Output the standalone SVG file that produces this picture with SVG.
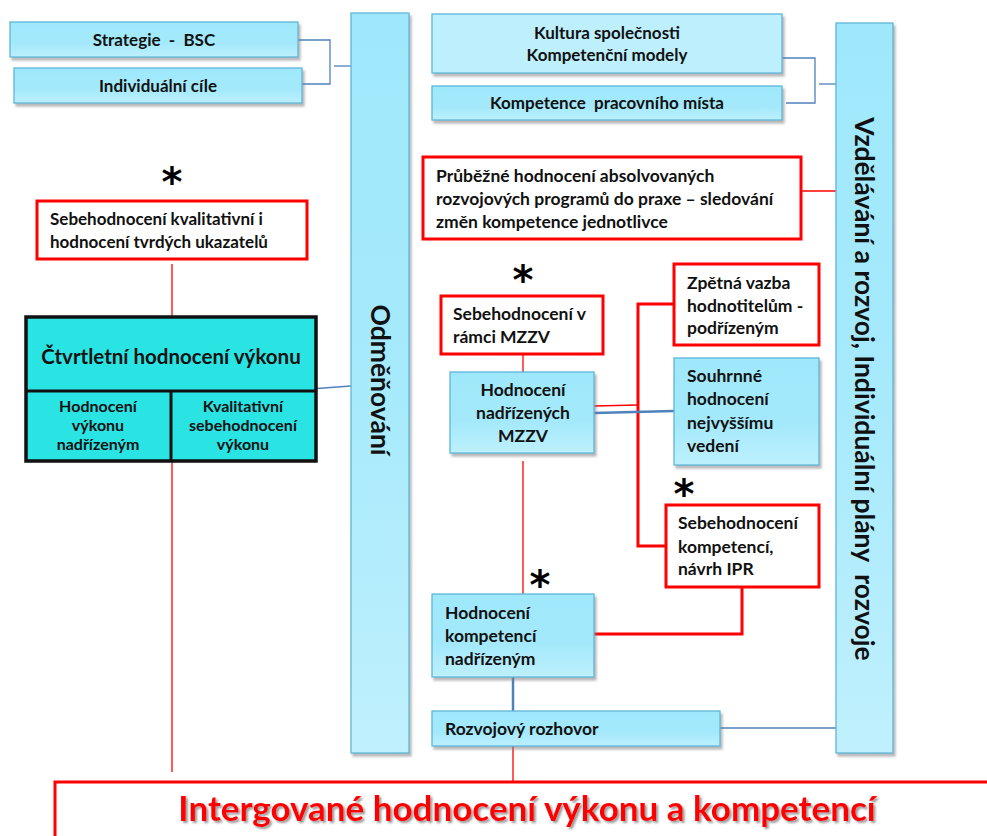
<svg xmlns="http://www.w3.org/2000/svg" width="987" height="836" viewBox="0 0 987 836">
  <defs>
    <linearGradient id="gBlue" x1="0" y1="0" x2="0" y2="1">
      <stop offset="0" stop-color="#9fe8fb"/>
      <stop offset="0.6" stop-color="#a3e9fb"/>
      <stop offset="1" stop-color="#bdf0fd"/>
    </linearGradient>
    <linearGradient id="gCol" x1="0" y1="0" x2="0" y2="1">
      <stop offset="0" stop-color="#9fe8fb"/>
      <stop offset="0.5" stop-color="#a6eafc"/>
      <stop offset="1" stop-color="#c0f0fd"/>
    </linearGradient>
    <filter id="shadow" x="-10%" y="-10%" width="130%" height="140%">
      <feDropShadow dx="2" dy="3" stdDeviation="1" flood-color="#7f7f7f" flood-opacity="0.55"/>
    </filter>
    <filter id="tshadow" x="-5%" y="-20%" width="110%" height="150%">
      <feDropShadow dx="2" dy="2" stdDeviation="0.8" flood-color="#808080" flood-opacity="0.8"/>
    </filter>
  </defs>
  <style>
    .box { fill: url(#gBlue); stroke: #5eb6d8; stroke-width: 1.3; filter: url(#shadow); }
    .col { fill: url(#gCol); stroke: #5eb6d8; stroke-width: 1.3; filter: url(#shadow); }
    .rbox { fill: #ffffff; stroke: #ff0000; stroke-width: 3; }
    .qbox { fill: #2ae4e4; stroke: #111111; stroke-width: 3.5; }
    .t { font-family: Lato, "Liberation Sans", sans-serif; font-weight: bold; fill: #111111; white-space: pre; }
    .s15 { font-size: 17px; }
    .s16 { font-size: 17.5px; }
    .sq { font-size: 16px; }
    .mid { text-anchor: middle; }
    .rot { font-size: 26.5px; text-anchor: middle; dominant-baseline: central; }
    .star { font-family: "DejaVu Sans", sans-serif; font-weight: bold; font-size: 40px; fill: #000; text-anchor: middle; }
    .bl { fill: none; stroke: #4f81bd; stroke-width: 1.3; }
    .bl2 { fill: none; stroke: #4f81bd; stroke-width: 2.5; }
    .rl { fill: none; stroke: #ff0000; stroke-width: 1.3; }
    .rl2 { fill: none; stroke: #ff0000; stroke-width: 3; }
    .big { font-family: Lato, "Liberation Sans", sans-serif; font-weight: bold; font-size: 35px; fill: #ff0000; text-anchor: middle; filter: url(#tshadow); }
  </style>

  <!-- connectors -->
  <g id="connectors">
    <polyline class="bl" points="298,40 330,40 330,84 302,84"/>
    <line class="bl" x1="334" y1="66" x2="351" y2="66"/>
    <polyline class="bl" points="782,58 815,58 815,103 786,103"/>
    <line class="bl" x1="819" y1="84" x2="836" y2="84"/>
    <line class="rl" x1="172" y1="264" x2="172" y2="317"/>
    <line class="rl" x1="172" y1="461" x2="172" y2="772"/>
    <line class="bl" x1="310" y1="389" x2="351" y2="386"/>
    <line class="rl" x1="801" y1="191" x2="836" y2="191"/>
    <line class="rl" x1="523" y1="354" x2="523" y2="372"/>
    <polyline class="rl2" points="674,304 638,304 638,546 666,546"/>
    <line class="rl" x1="594" y1="406" x2="638" y2="405"/>
    <line class="bl2" x1="594" y1="413" x2="674" y2="411"/>
    <line class="rl" x1="523" y1="461" x2="523" y2="594"/>
    <polyline class="rl2" points="742,587 742,634 594,634"/>
    <line class="bl2" x1="513" y1="677" x2="513" y2="711"/>
    <line class="bl" x1="720" y1="728" x2="836" y2="728"/>
    <line class="rl" x1="513" y1="746" x2="513" y2="782"/>
  </g>

  <!-- side columns -->
  <g id="odmenovani">
    <rect class="col" x="351" y="13" width="58" height="740"/>
    <text class="t rot" transform="translate(381,380) rotate(90)">Odměňování</text>
  </g>
  <g id="vzdelavani">
    <rect class="col" x="836" y="23" width="57" height="730"/>
    <text class="t rot" transform="translate(865,389) rotate(90)">Vzdělávání a rozvoj, Individuální plány  rozvoje</text>
  </g>

  <!-- top left inputs -->
  <g id="strategie">
    <rect class="box" x="10" y="22" width="288" height="35"/>
    <text class="t s15 mid" x="154" y="46">Strategie  -  BSC</text>
  </g>
  <g id="individualni-cile">
    <rect class="box" x="14" y="68" width="288" height="35"/>
    <text class="t s15 mid" x="158" y="92">Individuální cíle</text>
  </g>

  <!-- top right inputs -->
  <g id="kultura">
    <rect class="box" x="432" y="14" width="350" height="59" style="fill:#bdeffd"/>
    <text class="t s15 mid" x="607" y="39">Kultura společnosti</text>
    <text class="t s15 mid" x="607" y="61">Kompetenční modely</text>
  </g>
  <g id="kompetence-mista">
    <rect class="box" x="432" y="86" width="350" height="34"/>
    <text class="t s15 mid" x="607" y="109">Kompetence  pracovního místa</text>
  </g>

  <!-- left branch -->
  <g id="sebehodnoceni-kval">
    <text class="star" x="172" y="196">*</text>
    <rect class="rbox" x="37" y="201" width="270" height="58"/>
    <text class="t s15" x="50" y="225">Sebehodnocení kvalitativní i</text>
    <text class="t s15" x="50" y="248">hodnocení tvrdých ukazatelů</text>
  </g>
  <g id="ctvrtletni">
    <rect class="qbox" x="26" y="317" width="290" height="144"/>
    <line x1="26" y1="391" x2="316" y2="391" stroke="#111" stroke-width="3"/>
    <line x1="171" y1="391" x2="171" y2="461" stroke="#111" stroke-width="3"/>
    <text class="t mid" x="171" y="364" style="font-size:20.5px">Čtvrtletní hodnocení výkonu</text>
    <text class="t sq mid" x="98" y="412">Hodnocení</text>
    <text class="t sq mid" x="98" y="431">výkonu</text>
    <text class="t sq mid" x="98" y="450">nadřízeným</text>
    <text class="t sq mid" x="243" y="412">Kvalitativní</text>
    <text class="t sq mid" x="243" y="431">sebehodnocení</text>
    <text class="t sq mid" x="243" y="450">výkonu</text>
  </g>

  <!-- centre branch -->
  <g id="prubezne">
    <rect class="rbox" x="423" y="157" width="378" height="82"/>
    <text class="t s16" x="436" y="182">Průběžné hodnocení absolvovaných</text>
    <text class="t s16" x="436" y="205">rozvojových programů do praxe – sledování</text>
    <text class="t s16" x="436" y="228">změn kompetence jednotlivce</text>
  </g>
  <g id="sebehodnoceni-mzzv">
    <text class="star" x="523" y="294">*</text>
    <rect class="rbox" x="441" y="296" width="162" height="58"/>
    <text class="t s16" x="453" y="320">Sebehodnocení v</text>
    <text class="t s16" x="453" y="343">rámci MZZV</text>
  </g>
  <g id="hodnoceni-nadrizenych">
    <rect class="box" x="450" y="372" width="144" height="81"/>
    <text class="t s16 mid" x="523" y="396">Hodnocení</text>
    <text class="t s16 mid" x="523" y="419">nadřízených</text>
    <text class="t s16 mid" x="523" y="442">MZZV</text>
  </g>
  <g id="zpetna-vazba">
    <rect class="rbox" x="674" y="264" width="145" height="81"/>
    <text class="t s16" x="687" y="289">Zpětná vazba</text>
    <text class="t s16" x="687" y="312">hodnotitelům -</text>
    <text class="t s16" x="687" y="334">podřízeným</text>
  </g>
  <g id="souhrnne">
    <rect class="box" x="674" y="358" width="145" height="107"/>
    <text class="t s16" x="687" y="382">Souhrnné</text>
    <text class="t s16" x="687" y="405">hodnocení</text>
    <text class="t s16" x="687" y="429">nejvyššímu</text>
    <text class="t s16" x="687" y="452">vedení</text>
  </g>
  <g id="sebehodnoceni-kompetenci">
    <text class="star" x="684" y="508">*</text>
    <rect class="rbox" x="666" y="505" width="153" height="82"/>
    <text class="t s16" x="678" y="529">Sebehodnocení</text>
    <text class="t s16" x="678" y="553">kompetencí,</text>
    <text class="t s16" x="678" y="575">návrh IPR</text>
  </g>
  <g id="hodnoceni-kompetenci">
    <text class="star" x="540" y="599">*</text>
    <rect class="box" x="432" y="594" width="162" height="83"/>
    <text class="t s16" x="445" y="619">Hodnocení</text>
    <text class="t s16" x="445" y="642">kompetencí</text>
    <text class="t s16" x="445" y="665">nadřízeným</text>
  </g>
  <g id="rozvojovy-rozhovor">
    <rect class="box" x="432" y="711" width="288" height="35"/>
    <text class="t s16" x="445" y="735">Rozvojový rozhovor</text>
  </g>

  <!-- result -->
  <g id="integrovane">
    <rect class="rbox" x="55" y="782" width="960" height="80"/>
    <text class="big" x="527" y="821">Intergované hodnocení výkonu a kompetencí</text>
  </g>
</svg>
